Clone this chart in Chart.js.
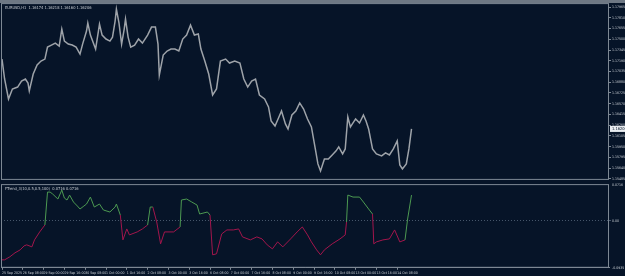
<!DOCTYPE html>
<html>
<head>
<meta charset="utf-8">
<script src="https://cdn.jsdelivr.net/npm/chart.js@4.4.1/dist/chart.umd.min.js"></script>
<style>
  html, body { margin: 0; padding: 0; background: #061428; }
  body { width: 625px; height: 276px; position: relative; overflow: hidden; }
  #topbar { position: absolute; left: 0; top: 0; width: 625px; height: 3px; background: #6e7884; }
  #pricePane { position: absolute; left: 0; top: 0; width: 625px; height: 183px; }
  #indPane { position: absolute; left: 0; top: 181px; width: 625px; height: 95px; }
</style>
</head>
<body>
<div id="topbar"></div>
<div id="pricePane"><canvas id="priceChart"></canvas></div>
<div id="indPane"><canvas id="indChart"></canvas></div>
<script>
// Cotización EURUSD H1 (horas desde 25 Sep 16:00)
const priceHours = [0, 2, 5, 8, 12, 15, 18, 20, 21, 24, 27, 30, 33, 35, 38, 41, 44, 46, 48, 51,
  54, 57, 60, 62, 65, 66, 68, 72, 75, 77, 80, 83, 85, 87, 88, 90, 92, 94, 95, 97,
  99, 102, 105, 108, 112, 115, 118, 120, 121, 124, 127, 130, 133, 136, 139, 142, 145, 148, 151, 153,
  156, 159, 162, 165, 168, 172, 175, 179, 183, 186, 189, 192, 195, 198, 202, 205, 207, 210, 213, 215,
  218, 220, 223, 226, 229, 232, 235, 238, 241, 243, 245, 248, 251, 254, 257, 259, 262, 264, 266, 268,
  272, 275, 278, 280, 282, 285, 288, 292, 295, 298, 301, 304, 306, 308, 311, 313, 315];
const priceValues = [1.17215, 1.16927, 1.16638, 1.16783, 1.16811, 1.16898, 1.16927, 1.16869, 1.16754, 1.16999,
  1.17129, 1.17186, 1.17215, 1.17388, 1.17417, 1.17446, 1.17403, 1.17648, 1.17475, 1.17431,
  1.17417, 1.17388, 1.17287, 1.17431, 1.17619, 1.17734, 1.17561, 1.17359, 1.17720, 1.17561,
  1.17504, 1.17475, 1.17532, 1.17763, 1.17936, 1.17734, 1.17431, 1.17648, 1.17792, 1.17532,
  1.17388, 1.17417, 1.17504, 1.17446, 1.17561, 1.17677, 1.17677, 1.17431, 1.16984, 1.17273,
  1.17331, 1.17359, 1.17359, 1.17331, 1.17504, 1.17561, 1.17705, 1.17561, 1.17576, 1.17359,
  1.17186, 1.16999, 1.16696, 1.16783, 1.17186, 1.17215, 1.17157, 1.17186, 1.17157, 1.16927,
  1.16811, 1.16898, 1.16927, 1.16696, 1.16638, 1.16523, 1.16321, 1.16249, 1.16379, 1.16465,
  1.16278, 1.16206, 1.16408, 1.16465, 1.16581, 1.16494, 1.16350, 1.16235, 1.15917, 1.15701,
  1.15600, 1.15773, 1.15773, 1.15831, 1.15889, 1.15946, 1.15845, 1.15917, 1.16379, 1.16235,
  1.16350, 1.16292, 1.16408, 1.16321, 1.16206, 1.15917, 1.15845, 1.15816, 1.15860, 1.15831,
  1.15917, 1.16033, 1.15687, 1.15629, 1.15701, 1.15917, 1.16206];

// Indicador (subventana)
const indHours = [0, 2, 6, 10, 14, 17, 19, 23, 25, 29, 33, 35, 37, 39, 43, 46, 48, 50, 52, 55,
  58, 60, 63, 65, 68, 71, 75, 78, 83, 87, 88, 91, 93, 96, 98, 104, 108, 112, 114, 116,
  119, 122, 125, 132, 137, 138, 142, 146, 150, 152, 158, 160, 162, 165, 169, 173, 178, 182, 185, 191,
  196, 200, 204, 208, 212, 216, 222, 227, 231, 235, 238, 242, 245, 248, 254, 260, 264, 265, 266, 270,
  275, 278, 282, 285, 286, 288, 293, 298, 302, 306, 310, 312, 315];
const indValues = [-0.0776, -0.0776, -0.0716, -0.0636, -0.0577, -0.0497, -0.0477, -0.0517, -0.0378, -0.0219,
  -0.0080, 0.0577, 0.0577, 0.0537, 0.0438, 0.0617, 0.0457, 0.0418, 0.0517, 0.0378,
  0.0298, 0.0239, 0.0298, 0.0338, 0.0477, 0.0278, 0.0338, 0.0219, 0.0179, 0.0278,
  0.0338, 0.0119, -0.0378, -0.0159, -0.0278, -0.0219, -0.0159, -0.0080, 0.0278, 0.0278,
  -0.0020, -0.0457, -0.0219, -0.0219, -0.0119, 0.0418, 0.0438, 0.0378, 0.0318, 0.0139,
  0.0179, 0.0119, -0.0676, -0.0656, -0.0259, -0.0179, -0.0179, -0.0159, -0.0318, -0.0378,
  -0.0318, -0.0358, -0.0477, -0.0557, -0.0418, -0.0517, -0.0358, -0.0219, -0.0119, -0.0278,
  -0.0418, -0.0577, -0.0676, -0.0577, -0.0457, -0.0358, -0.0278, -0.0020, 0.0517, 0.0477,
  0.0477, 0.0378, 0.0239, 0.0139, -0.0457, -0.0418, -0.0378, -0.0358, -0.0179, -0.0418,
  -0.0378, 0.0040, 0.0517];

// Etiquetas del eje de tiempo
const timeTickHours = [0, 16, 32, 48, 64, 80, 96, 112, 128, 144, 160, 176, 192, 208, 224, 240, 256, 272, 288, 304];
const timeTickLabels = ['25 Sep 2025', '26 Sep 08:00', '29 Sep 00:00', '29 Sep 16:00', '30 Sep 08:00',
  '1 Oct 00:00', '1 Oct 16:00', '2 Oct 08:00', '3 Oct 00:00', '3 Oct 16:00', '6 Oct 08:00',
  '7 Oct 00:00', '7 Oct 16:00', '8 Oct 08:00', '9 Oct 00:00', '9 Oct 16:00', '10 Oct 08:00',
  '13 Oct 00:00', '13 Oct 16:00', '14 Oct 08:00'];

// Escala de precios
const priceTicks = [1.17965, 1.17810, 1.17655, 1.17500, 1.17345, 1.17190, 1.17035, 1.16880, 1.16725,
  1.16570, 1.16415, 1.16260, 1.16105, 1.15950, 1.15795, 1.15640, 1.15485];
const indTicks = [0.0716, 0.0, -0.0935];

const PRICE_MIN = 1.15470, PRICE_MAX = 1.18023;
const IND_MIN = -0.0935, IND_MAX = 0.0736;
const X_MIN = -0.77, X_MAX = 466.9;

const FRAME = '#7d8894';
const TEXT = '#c9ced4';
const FAMILY = "'Liberation Sans Narrow', 'DejaVu Sans Condensed', sans-serif";
const FONT = { family: FAMILY, size: 3.5 };
const GREEN = '#4d9a52';
const RED = '#a3164c';

// Marco de cada panel y textos
const paneFrame = {
  id: 'paneFrame',
  afterDraw(chart, args, opts) {
    const { ctx, chartArea: a } = chart;
    ctx.save();
    ctx.strokeStyle = FRAME;
    ctx.lineWidth = 1;
    ctx.strokeRect(a.left + 0.5, a.top + 0.5, a.right - a.left - 1, a.bottom - a.top - 1);
    ctx.font = '4px ' + FAMILY;
    ctx.fillStyle = TEXT;
    ctx.textBaseline = 'top';
    ctx.fillText(opts.title, a.left + 4, a.top + 3);
    if (opts.lastLabel) {
      const ds = chart.data.datasets[0].data;
      const last = ds[ds.length - 1].y;
      const y = chart.scales.y.getPixelForValue(last);
      ctx.fillStyle = '#e8ecf0';
      ctx.fillRect(a.right + 1, y - 3, 15, 6);
      ctx.fillStyle = '#061428';
      ctx.textBaseline = 'middle';
      ctx.fillText(last.toFixed(5), a.right + 3, y);
    }
    ctx.restore();
  }
};

Chart.defaults.animation = false;

function xScale(showLabels) {
  return {
    type: 'linear',
    min: X_MIN,
    max: X_MAX,
    display: showLabels,
    afterBuildTicks: s => { s.ticks = timeTickHours.map(v => ({ value: v })); },
    ticks: {
      autoSkip: false,
      maxRotation: 0,
      align: 'start',
      padding: 1,
      color: TEXT,
      font: FONT,
      callback: v => timeTickLabels[timeTickHours.indexOf(v)]
    },
    grid: { display: true, drawOnChartArea: false, drawTicks: true, tickLength: 2, color: FRAME },
    border: { display: true, color: FRAME }
  };
}

function yScale(min, max, ticksArr, fmt) {
  return {
    position: 'right',
    min: min,
    max: max,
    afterBuildTicks: s => { s.ticks = ticksArr.map(v => ({ value: v })); },
    afterFit: s => { s.width = 16; },
    ticks: {
      color: TEXT,
      font: FONT,
      padding: 1,
      crossAlign: 'near',
      callback: fmt
    },
    grid: { drawOnChartArea: false, tickLength: 2, color: FRAME },
    border: { display: false }
  };
}

new Chart(document.getElementById('priceChart'), {
  type: 'line',
  data: {
    datasets: [{
      data: priceHours.map((h, i) => ({ x: h, y: priceValues[i] })),
      borderColor: '#9ea3a9',
      borderWidth: 1.5,
      pointRadius: 0,
      tension: 0
    }]
  },
  options: {
    responsive: true,
    maintainAspectRatio: false,
    layout: { padding: { top: 3, left: 1, right: 0, bottom: 1 } },
    plugins: {
      legend: { display: false },
      tooltip: { enabled: false },
      paneFrame: { title: 'EURUSD,H1  1.16174 1.16218 1.16160 1.16206', lastLabel: true }
    },
    scales: {
      x: xScale(false),
      y: yScale(PRICE_MIN, PRICE_MAX, priceTicks, v => v.toFixed(5))
    }
  },
  plugins: [paneFrame]
});

new Chart(document.getElementById('indChart'), {
  type: 'line',
  data: {
    datasets: [{
      data: indHours.map((h, i) => ({ x: h, y: indValues[i] })),
      borderWidth: 1,
      pointRadius: 0,
      tension: 0,
      borderColor: GREEN,
      segment: {
        borderColor: c => c.p1.parsed.y >= 0 ? GREEN : RED
      }
    }]
  },
  options: {
    responsive: true,
    maintainAspectRatio: false,
    layout: { padding: { top: 0, left: 1, right: 0, bottom: 0 } },
    plugins: {
      legend: { display: false },
      tooltip: { enabled: false },
      paneFrame: { title: 'FTrend_3(10,0.5,0.5,100)  0.0716 0.0716', lastLabel: false }
    },
    scales: {
      x: xScale(true),
      y: Object.assign(yScale(IND_MIN, IND_MAX, indTicks, v => v === 0 ? '0.00' : v.toFixed(4)), {
        grid: {
          drawOnChartArea: true,
          tickLength: 2,
          color: c => c.tick && c.tick.value === 0 ? '#46566a' : 'rgba(0,0,0,0)'
        },
        border: { display: false, dash: [1, 2] }
      })
    }
  },
  plugins: [paneFrame]
});
</script>
</body>
</html>
